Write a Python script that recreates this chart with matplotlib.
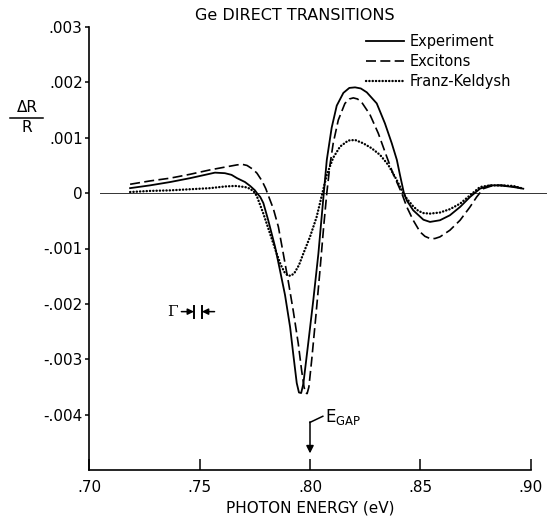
import matplotlib.pyplot as plt
from matplotlib.lines import Line2D

# photon energy (eV) and dR/R for each curve
exp_e = [0.7186, 0.7276, 0.7367, 0.7457, 0.7525, 0.7570, 0.7615, 0.7645, 0.7670, 0.7706,
         0.7729, 0.7751, 0.7760, 0.7775, 0.7789, 0.7811, 0.7842, 0.7864, 0.7887, 0.7910,
         0.7924, 0.7940, 0.7950, 0.7960, 0.7970, 0.7992, 0.8015, 0.8038, 0.8050, 0.8059,
         0.8076, 0.8098, 0.8121, 0.8151, 0.8178, 0.8204, 0.8230, 0.8257, 0.8302, 0.8339,
         0.8370, 0.8393, 0.8407, 0.8425, 0.8439, 0.8467, 0.8513, 0.8543, 0.8588, 0.8633,
         0.8679, 0.8724, 0.8769, 0.8814, 0.8860, 0.8920, 0.8965]
exp_r = [0.00009, 0.00014, 0.00020, 0.00027, 0.00033, 0.00037, 0.00036, 0.00033, 0.00027, 0.00020,
         0.00013, 0.00005, 0.0, -0.00007, -0.00018, -0.00049, -0.00097, -0.00139, -0.00184, -0.00242,
         -0.00290, -0.00343, -0.00360, -0.00361, -0.00344, -0.00271, -0.00193, -0.00109, -0.00055, -0.00015,
         0.00060, 0.00118, 0.00158, 0.00181, 0.00190, 0.00191, 0.00189, 0.00182, 0.00162, 0.00126,
         0.00090, 0.00060, 0.00033, 0.0, -0.00014, -0.00031, -0.00048, -0.00052, -0.00049, -0.00040,
         -0.00025, -0.00007, 0.00008, 0.00014, 0.00014, 0.00011, 0.00008]

exc_e = [0.7186, 0.7276, 0.7367, 0.7457, 0.7548, 0.7615, 0.7670, 0.7693, 0.7715, 0.7742,
         0.7760, 0.7783, 0.7800, 0.7812, 0.7834, 0.7857, 0.7879, 0.7902, 0.7924, 0.7947,
         0.7962, 0.7973, 0.7980, 0.7987, 0.7995, 0.8008, 0.8027, 0.8045, 0.8062, 0.8076,
         0.8090, 0.8105, 0.8128, 0.8158, 0.8178, 0.8196, 0.8215, 0.8234, 0.8271, 0.8309,
         0.8347, 0.8376, 0.8415, 0.8438, 0.8467, 0.8498, 0.8520, 0.8543, 0.8565, 0.8588,
         0.8633, 0.8679, 0.8724, 0.8754, 0.8784, 0.8829, 0.8873, 0.8935, 0.8965]
exc_r = [0.00016, 0.00022, 0.00027, 0.00034, 0.00042, 0.00047, 0.00051, 0.00052, 0.00050, 0.00043,
         0.00036, 0.00022, 0.00008, -0.00005, -0.00028, -0.00061, -0.00109, -0.00160, -0.00212, -0.00272,
         -0.00320, -0.00350, -0.00361, -0.00362, -0.00350, -0.00300, -0.00220, -0.00140, -0.00060, 0.00000,
         0.00050, 0.00090, 0.00132, 0.00162, 0.00170, 0.00172, 0.00170, 0.00164, 0.00142, 0.00108,
         0.00066, 0.00035, 0.0, -0.00025, -0.00049, -0.00070, -0.00078, -0.00082, -0.00082, -0.00079,
         -0.00067, -0.00049, -0.00025, -0.00007, 0.00008, 0.00014, 0.00014, 0.00011, 0.00008]

fk_e = [0.7186, 0.7276, 0.7367, 0.7457, 0.7548, 0.7615, 0.7661, 0.7706, 0.7729, 0.7747,
        0.7759, 0.7789, 0.7819, 0.7849, 0.7868, 0.7885, 0.7900, 0.7915, 0.7930, 0.7950,
        0.7970, 0.8000, 0.8030, 0.8053, 0.8076, 0.8105, 0.8136, 0.8173, 0.8204, 0.8241,
        0.8279, 0.8317, 0.8354, 0.8392, 0.8422, 0.8438, 0.8467, 0.8490, 0.8513, 0.8543,
        0.8588, 0.8633, 0.8679, 0.8724, 0.8769, 0.8814, 0.8860, 0.8920, 0.8965]
fk_r = [0.00002, 0.00004, 0.00005, 0.00007, 0.00009, 0.00012, 0.00013, 0.00011, 0.00008, 0.00002,
        -0.00005, -0.00037, -0.00073, -0.00109, -0.00130, -0.00143, -0.00149, -0.00149, -0.00144, -0.00130,
        -0.00109, -0.00079, -0.00043, -0.00005, 0.00033, 0.00064, 0.00084, 0.00095, 0.00096, 0.00090,
        0.00081, 0.00069, 0.00051, 0.00024, 0.0, -0.00010, -0.00024, -0.00032, -0.00036, -0.00037,
        -0.00035, -0.00029, -0.00019, -0.00004, 0.00011, 0.00014, 0.00014, 0.00013, 0.00008]

x_ticks = [0.70, 0.75, 0.80, 0.85, 0.90]
x_labels = [".70", ".75", ".80", ".85", ".90"]
y_ticks = [0.003, 0.002, 0.001, 0.0, -0.001, -0.002, -0.003, -0.004]
y_labels = [".003", ".002", ".001", "0", "-.001", "-.002", "-.003", "-.004"]

e_gap = 0.80

plt.rcParams['font.family'] = 'DejaVu Sans'

fig = plt.figure(figsize=(5.47, 5.18), dpi=100)
ax = fig.add_axes([89 / 547, 1 - 470 / 518, 442 / 547, 443 / 518])

ax.axhline(0, xmin=0.025, xmax=1.035, color='#333333', lw=0.7, clip_on=False)

ax.plot(exp_e, exp_r, color='black', lw=1.3, label='Experiment')
ax.plot(exc_e, exc_r, color='black', lw=1.2, dashes=(6, 2.6), label='Excitons')
ax.plot(fk_e, fk_r, color='black', lw=1.7, linestyle=(0, (0.1, 1.3)),
        dash_capstyle='round', label='Franz-Keldysh')

ax.set_xlim(0.70, 0.90)
ax.set_ylim(-0.005, 0.003)
ax.spines['top'].set_visible(False)
ax.spines['right'].set_visible(False)
ax.spines['left'].set_linewidth(1.2)
ax.spines['bottom'].set_linewidth(1.2)

ax.set_xticks(x_ticks)
ax.set_xticklabels(x_labels)
ax.set_yticks(y_ticks)
ax.set_yticklabels(y_labels)
ax.tick_params(axis='x', direction='in', length=8, width=1.1, pad=7, labelsize=11)
ax.tick_params(axis='y', direction='out', length=3, width=1.1, pad=1.5, labelsize=11)
ax.set_yticks([0.003], minor=True)
ax.tick_params(axis='y', which='minor', direction='in', length=5, width=1.1)

ax.set_xlabel('PHOTON ENERGY (eV)', fontsize=11, labelpad=4)

fig.text(295 / 547, 1 - 15 / 518, 'Ge DIRECT TRANSITIONS', ha='center', va='center', fontsize=11.5)

# dR/R written as a stacked fraction
fig.text(27 / 547, 1 - 108 / 518, 'ΔR', ha='center', va='center', fontsize=11)
fig.add_artist(Line2D([10 / 547, 43 / 547], [1 - 118 / 518, 1 - 118 / 518], color='black', lw=1.1))
fig.text(27 / 547, 1 - 127 / 518, 'R', ha='center', va='center', fontsize=11)

leg = ax.legend(loc='upper left', bbox_to_anchor=(366 / 547, 1 - 34 / 518),
                bbox_transform=fig.transFigure, frameon=False, fontsize=10.5,
                handlelength=2.6, handletextpad=0.4, labelspacing=0.35,
                borderpad=0, borderaxespad=0)

# linewidth marker
ax.text(0.7376, -0.00215, 'Γ', ha='center', va='center', fontsize=11, family='DejaVu Serif')
ax.annotate('', xy=(0.7475, -0.00214), xytext=(0.7418, -0.00214),
            arrowprops=dict(arrowstyle='-|>', color='black', lw=1.1, mutation_scale=9,
                            shrinkA=0, shrinkB=0))
ax.annotate('', xy=(0.7511, -0.00214), xytext=(0.7568, -0.00214),
            arrowprops=dict(arrowstyle='-|>', color='black', lw=1.1, mutation_scale=9,
                            shrinkA=0, shrinkB=0))
ax.plot([0.7475, 0.7475], [-0.00203, -0.00225], color='black', lw=1.4)
ax.plot([0.7511, 0.7511], [-0.00203, -0.00225], color='black', lw=1.4)

# band gap arrow
ax.plot([e_gap, 0.8058], [-0.00414, -0.00403], color='black', lw=1.1)
ax.annotate('', xy=(e_gap, -0.00470), xytext=(e_gap, -0.00413),
            arrowprops=dict(arrowstyle='-|>', color='black', lw=1.1, mutation_scale=11,
                            shrinkA=0, shrinkB=0))
ax.text(0.8066, -0.00405, r'$\mathregular{E_{GAP}}$', ha='left', va='center', fontsize=12)

fig.savefig('out.png', dpi=100)
